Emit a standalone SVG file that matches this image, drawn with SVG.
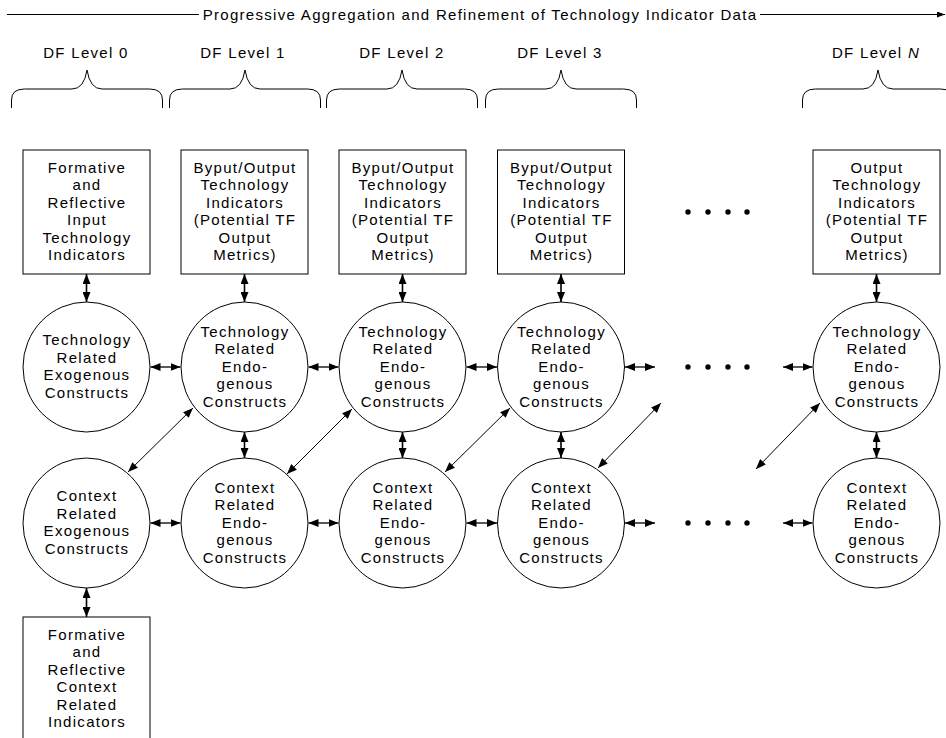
<svg xmlns="http://www.w3.org/2000/svg" width="946" height="738" viewBox="0 0 946 738">
<style>
.t{font-family:"Liberation Sans",Arial,sans-serif;font-size:15px;letter-spacing:1.3px;text-anchor:middle;fill:#000}
.box{fill:#fff;stroke:#000;stroke-width:1}
.circ{fill:#fff;stroke:#000;stroke-width:1}
.brace{fill:none;stroke:#000;stroke-width:1}
.v{stroke:#000;stroke-width:1.6;fill:none;marker-start:url(#ah);marker-end:url(#ah)}
.h{stroke:#000;stroke-width:1.3;fill:none;marker-start:url(#ah);marker-end:url(#ah)}
.d{stroke:#000;stroke-width:1;fill:none;marker-start:url(#ah);marker-end:url(#ah)}
.dot{fill:#000}
</style>
<defs>
<marker id="ah" viewBox="0 0 10 8" refX="10" refY="4" markerWidth="10" markerHeight="8" markerUnits="userSpaceOnUse" orient="auto-start-reverse"><path d="M0,0 L10,4 L0,8 z" fill="#000"/></marker>
<marker id="ahs" viewBox="0 0 8 6" refX="8" refY="3" markerWidth="8" markerHeight="6" markerUnits="userSpaceOnUse" orient="auto"><path d="M0,0 L8,3 L0,6 z" fill="#000"/></marker>
</defs>
<rect width="946" height="738" fill="#fff"/>

<g id="title">
<line x1="7" y1="14.5" x2="199" y2="14.5" stroke="#000" stroke-width="1"/>
<line x1="760" y1="14.5" x2="945" y2="14.5" stroke="#000" stroke-width="1" marker-end="url(#ahs)"/>
<text class="t" x="480" y="19.5">Progressive Aggregation and Refinement of Technology Indicator Data</text>
</g>

<g id="levels">
<text class="t" x="86" y="58">DF Level 0</text>
<text class="t" x="243" y="58">DF Level 1</text>
<text class="t" x="402" y="58">DF Level 2</text>
<text class="t" x="560" y="58">DF Level 3</text>
<text class="t" x="876" y="58">DF Level <tspan font-style="italic">N</tspan></text>
<path class="brace" d="M11.5,108 L11.5,100 Q11.5,89 24.5,89 L72,89 Q84,89 87,70 Q90,89 102,89 L149.5,89 Q162.5,89 162.5,100 L162.5,108"/>
<path class="brace" d="M169.5,108 L169.5,100 Q169.5,89 182.5,89 L230,89 Q242,89 245,70 Q248,89 260,89 L307.5,89 Q320.5,89 320.5,100 L320.5,108"/>
<path class="brace" d="M326.5,108 L326.5,100 Q326.5,89 339.5,89 L387,89 Q399,89 402,70 Q405,89 417,89 L464.5,89 Q477.5,89 477.5,100 L477.5,108"/>
<path class="brace" d="M485.5,108 L485.5,100 Q485.5,89 498.5,89 L546,89 Q558,89 561,70 Q564,89 576,89 L623.5,89 Q636.5,89 636.5,100 L636.5,108"/>
<path class="brace" d="M802.5,108 L802.5,100 Q802.5,89 815.5,89 L863,89 Q875,89 878,70 Q881,89 893,89 L940.5,89 Q953.5,89 953.5,100 L953.5,108"/>
</g>

<g id="connectors">
<line class="v" x1="86.5" y1="274" x2="86.5" y2="302"/>
<line class="v" x1="244.5" y1="274" x2="244.5" y2="302"/>
<line class="v" x1="402.5" y1="274" x2="402.5" y2="302"/>
<line class="v" x1="561" y1="274" x2="561" y2="302"/>
<line class="v" x1="876.5" y1="274" x2="876.5" y2="302"/>
<line class="v" x1="244.5" y1="432" x2="244.5" y2="458"/>
<line class="v" x1="402.5" y1="432" x2="402.5" y2="458"/>
<line class="v" x1="561" y1="432" x2="561" y2="458"/>
<line class="v" x1="876.5" y1="432" x2="876.5" y2="458"/>
<line class="v" x1="86.5" y1="588" x2="86.5" y2="617"/>
<line class="h" x1="150.5" y1="367" x2="180.5" y2="367"/>
<line class="h" x1="308.5" y1="367" x2="338.5" y2="367"/>
<line class="h" x1="466.5" y1="367" x2="497" y2="367"/>
<line class="h" x1="625" y1="367" x2="655" y2="367"/>
<line class="h" x1="783" y1="367" x2="812.5" y2="367"/>
<line class="h" x1="150.5" y1="523" x2="180.5" y2="523"/>
<line class="h" x1="308.5" y1="523" x2="338.5" y2="523"/>
<line class="h" x1="466.5" y1="523" x2="497" y2="523"/>
<line class="h" x1="625" y1="523" x2="655" y2="523"/>
<line class="h" x1="783" y1="523" x2="812.5" y2="523"/>
<line class="d" x1="128" y1="472" x2="193" y2="408"/>
<line class="d" x1="287" y1="474" x2="352" y2="409"/>
<line class="d" x1="445" y1="472" x2="510" y2="408"/>
<line class="d" x1="598" y1="468" x2="661" y2="403"/>
<line class="d" x1="756" y1="469" x2="820" y2="403"/>
</g>

<g id="dots">
<circle class="dot" cx="688" cy="212" r="2.7"/><circle class="dot" cx="708" cy="212" r="2.7"/><circle class="dot" cx="728" cy="212" r="2.7"/><circle class="dot" cx="747" cy="212" r="2.7"/>
<circle class="dot" cx="688" cy="367" r="2.7"/><circle class="dot" cx="708" cy="367" r="2.7"/><circle class="dot" cx="728" cy="367" r="2.7"/><circle class="dot" cx="747" cy="367" r="2.7"/>
<circle class="dot" cx="688" cy="523" r="2.7"/><circle class="dot" cx="708" cy="523" r="2.7"/><circle class="dot" cx="728" cy="523" r="2.7"/><circle class="dot" cx="747" cy="523" r="2.7"/>
</g>

<g id="box0">
<rect class="box" x="23" y="150" width="127" height="124"/>
<text class="t"><tspan x="87" y="172.8">Formative</tspan><tspan x="87" y="190.3">and</tspan><tspan x="87" y="207.8">Reflective</tspan><tspan x="87" y="225.3">Input</tspan><tspan x="87" y="242.8">Technology</tspan><tspan x="87" y="260.3">Indicators</tspan></text>
</g>
<g id="box1">
<rect class="box" x="181" y="150" width="127" height="124"/>
<text class="t"><tspan x="245" y="172.8">Byput/Output</tspan><tspan x="245" y="190.3">Technology</tspan><tspan x="245" y="207.8">Indicators</tspan><tspan x="245" y="225.3">(Potential TF</tspan><tspan x="245" y="242.8">Output</tspan><tspan x="245" y="260.3">Metrics)</tspan></text>
</g>
<g id="box2">
<rect class="box" x="339" y="150" width="127" height="124"/>
<text class="t"><tspan x="403" y="172.8">Byput/Output</tspan><tspan x="403" y="190.3">Technology</tspan><tspan x="403" y="207.8">Indicators</tspan><tspan x="403" y="225.3">(Potential TF</tspan><tspan x="403" y="242.8">Output</tspan><tspan x="403" y="260.3">Metrics)</tspan></text>
</g>
<g id="box3">
<rect class="box" x="497.5" y="150" width="127" height="124"/>
<text class="t"><tspan x="561.5" y="172.8">Byput/Output</tspan><tspan x="561.5" y="190.3">Technology</tspan><tspan x="561.5" y="207.8">Indicators</tspan><tspan x="561.5" y="225.3">(Potential TF</tspan><tspan x="561.5" y="242.8">Output</tspan><tspan x="561.5" y="260.3">Metrics)</tspan></text>
</g>
<g id="boxN">
<rect class="box" x="813" y="150" width="127" height="124"/>
<text class="t"><tspan x="877" y="172.8">Output</tspan><tspan x="877" y="190.3">Technology</tspan><tspan x="877" y="207.8">Indicators</tspan><tspan x="877" y="225.3">(Potential TF</tspan><tspan x="877" y="242.8">Output</tspan><tspan x="877" y="260.3">Metrics)</tspan></text>
</g>

<g id="tech0">
<ellipse class="circ" cx="86.5" cy="367" rx="63.5" ry="65"/>
<text class="t"><tspan x="87" y="345.3">Technology</tspan><tspan x="87" y="362.8">Related</tspan><tspan x="87" y="380.3">Exogenous</tspan><tspan x="87" y="397.8">Constructs</tspan></text>
</g>
<g id="tech1">
<ellipse class="circ" cx="244.5" cy="367" rx="63.5" ry="65"/>
<text class="t"><tspan x="245" y="336.5">Technology</tspan><tspan x="245" y="354">Related</tspan><tspan x="245" y="371.5">Endo-</tspan><tspan x="245" y="389">genous</tspan><tspan x="245" y="406.5">Constructs</tspan></text>
</g>
<g id="tech2">
<ellipse class="circ" cx="402.5" cy="367" rx="63.5" ry="65"/>
<text class="t"><tspan x="403" y="336.5">Technology</tspan><tspan x="403" y="354">Related</tspan><tspan x="403" y="371.5">Endo-</tspan><tspan x="403" y="389">genous</tspan><tspan x="403" y="406.5">Constructs</tspan></text>
</g>
<g id="tech3">
<ellipse class="circ" cx="561" cy="367" rx="63.5" ry="65"/>
<text class="t"><tspan x="561.5" y="336.5">Technology</tspan><tspan x="561.5" y="354">Related</tspan><tspan x="561.5" y="371.5">Endo-</tspan><tspan x="561.5" y="389">genous</tspan><tspan x="561.5" y="406.5">Constructs</tspan></text>
</g>
<g id="techN">
<ellipse class="circ" cx="876.5" cy="367" rx="63.5" ry="65"/>
<text class="t"><tspan x="877" y="336.5">Technology</tspan><tspan x="877" y="354">Related</tspan><tspan x="877" y="371.5">Endo-</tspan><tspan x="877" y="389">genous</tspan><tspan x="877" y="406.5">Constructs</tspan></text>
</g>

<g id="ctx0">
<ellipse class="circ" cx="86.5" cy="523" rx="63.5" ry="65"/>
<text class="t"><tspan x="87" y="501.3">Context</tspan><tspan x="87" y="518.8">Related</tspan><tspan x="87" y="536.3">Exogenous</tspan><tspan x="87" y="553.8">Constructs</tspan></text>
</g>
<g id="ctx1">
<ellipse class="circ" cx="244.5" cy="523" rx="63.5" ry="65"/>
<text class="t"><tspan x="245" y="492.5">Context</tspan><tspan x="245" y="510">Related</tspan><tspan x="245" y="527.5">Endo-</tspan><tspan x="245" y="545">genous</tspan><tspan x="245" y="562.5">Constructs</tspan></text>
</g>
<g id="ctx2">
<ellipse class="circ" cx="402.5" cy="523" rx="63.5" ry="65"/>
<text class="t"><tspan x="403" y="492.5">Context</tspan><tspan x="403" y="510">Related</tspan><tspan x="403" y="527.5">Endo-</tspan><tspan x="403" y="545">genous</tspan><tspan x="403" y="562.5">Constructs</tspan></text>
</g>
<g id="ctx3">
<ellipse class="circ" cx="561" cy="523" rx="63.5" ry="65"/>
<text class="t"><tspan x="561.5" y="492.5">Context</tspan><tspan x="561.5" y="510">Related</tspan><tspan x="561.5" y="527.5">Endo-</tspan><tspan x="561.5" y="545">genous</tspan><tspan x="561.5" y="562.5">Constructs</tspan></text>
</g>
<g id="ctxN">
<ellipse class="circ" cx="876.5" cy="523" rx="63.5" ry="65"/>
<text class="t"><tspan x="877" y="492.5">Context</tspan><tspan x="877" y="510">Related</tspan><tspan x="877" y="527.5">Endo-</tspan><tspan x="877" y="545">genous</tspan><tspan x="877" y="562.5">Constructs</tspan></text>
</g>

<g id="boxCtx">
<rect class="box" x="23" y="617" width="127" height="130"/>
<text class="t"><tspan x="87" y="639.8">Formative</tspan><tspan x="87" y="657.3">and</tspan><tspan x="87" y="674.8">Reflective</tspan><tspan x="87" y="692.3">Context</tspan><tspan x="87" y="709.8">Related</tspan><tspan x="87" y="727.3">Indicators</tspan></text>
</g>
</svg>
